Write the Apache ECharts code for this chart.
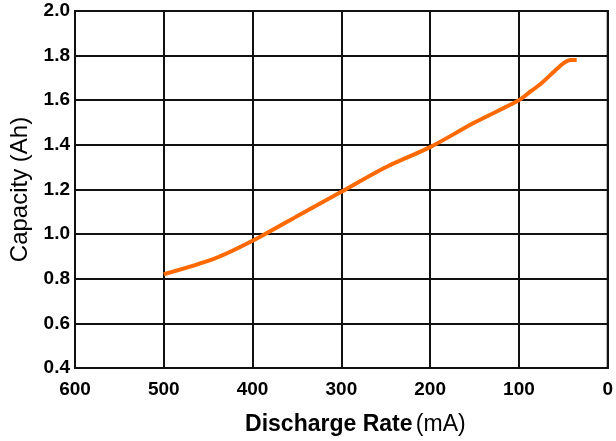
<!DOCTYPE html>
<html>
<head>
<meta charset="utf-8">
<script src="https://cdn.jsdelivr.net/npm/echarts@6/dist/echarts.min.js"></script>
<style>html,body{margin:0;padding:0;background:#fff}#c{width:616px;height:441px}</style>
</head>
<body>
<div id="c"></div>
<script>
const rate = [500, 443, 400, 350, 300, 250, 200, 150, 100, 90, 75, 60, 50, 42, 35];
const capacity = [0.82, 0.89, 0.97, 1.08, 1.19, 1.30, 1.39, 1.50, 1.60, 1.63, 1.675, 1.73, 1.765, 1.78, 1.78];
const xTicks = ['0', '100', '200', '300', '400', '500', '600'];
const yTicks = ['0.4', '0.6', '0.8', '1.0', '1.2', '1.4', '1.6', '1.8', '2.0'];

const chart = echarts.init(document.getElementById('c'));
const lineStyleAxis = {color: '#111', width: 2};
chart.setOption({
  animation: false,
  grid: {left: 75, right: 4, top: 11, bottom: 70, show: true, borderColor: '#111', borderWidth: 2},
  xAxis: {
    type: 'value', min: 0, max: 600, interval: 100, inverse: true,
    axisLine: {show: true, lineStyle: lineStyleAxis},
    axisTick: {show: false},
    splitLine: {show: true, lineStyle: lineStyleAxis},
    axisLabel: {
      margin: 12, fontSize: 19, fontWeight: 'bold', color: '#000', fontFamily: 'Liberation Sans',
      formatter: v => xTicks[xTicks.indexOf(String(v))]
    },
    name: '{b|Discharge Rate} {n|(mA)}',
    nameLocation: 'middle', nameGap: 45,
    nameTextStyle: {
      rich: {
        b: {fontSize: 23, fontWeight: 'bold', color: '#000', fontFamily: 'Liberation Sans'},
        n: {fontSize: 23, color: '#000', fontFamily: 'Liberation Sans'}
      },
      padding: [0, 0, 0, 28]
    }
  },
  yAxis: {
    type: 'value', min: 0.4, max: 2.0, interval: 0.2,
    axisLine: {show: true, lineStyle: lineStyleAxis},
    axisTick: {show: false},
    splitLine: {show: true, lineStyle: lineStyleAxis},
    axisLabel: {
      margin: 5, fontSize: 19, fontWeight: 'bold', color: '#000', fontFamily: 'Liberation Sans',
      formatter: v => yTicks[Math.round((v - 0.4) / 0.2)]
    },
    name: 'Capacity (Ah)',
    nameLocation: 'middle', nameGap: 36,
    nameTextStyle: {fontSize: 24, color: '#000', fontFamily: 'Liberation Sans'}
  },
  series: [{
    type: 'line',
    data: rate.map((r, i) => [r, capacity[i]]),
    showSymbol: false, smooth: 0.3,
    lineStyle: {color: '#FF6A00', width: 4},
    itemStyle: {color: '#FF6A00'}
  }]
});
</script>
</body>
</html>
